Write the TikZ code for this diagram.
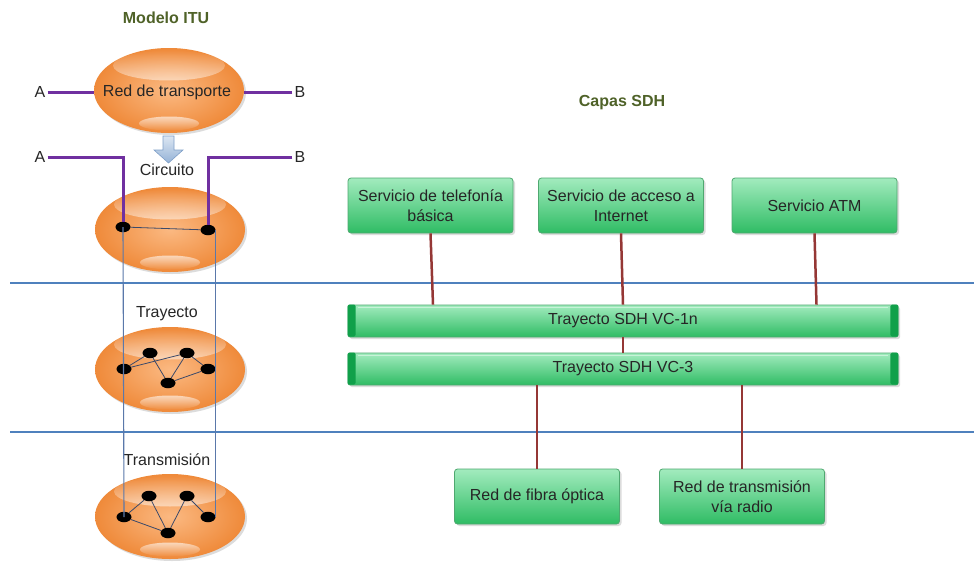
\documentclass[tikz,border=0pt]{standalone}
\usepackage{fontspec}
\setmainfont{Liberation Sans}
\usetikzlibrary{shapes.geometric,shadows,fadings,calc}

\definecolor{titleolive}{HTML}{4F6228}
\definecolor{linkpurple}{HTML}{7030A0}
\definecolor{layerblue}{HTML}{4F81BD}
\definecolor{frameblue}{HTML}{5A78AA}
\definecolor{meshline}{HTML}{3C4A6A}
\definecolor{linkred}{HTML}{953735}
\definecolor{orgin}{HTML}{FBB982}
\definecolor{orgout}{HTML}{EF8A3A}
\definecolor{gtop}{HTML}{A2EBBE}
\definecolor{gmid}{HTML}{47C878}
\definecolor{gbot}{HTML}{2FBC64}
\definecolor{gborder}{HTML}{4FA870}
\definecolor{gdark}{HTML}{10A04A}
\definecolor{arrowtop}{HTML}{DCE6F2}
\definecolor{arrowbot}{HTML}{95B3D7}
\definecolor{arrowline}{HTML}{7F9FC8}

\tikzset{
  x=1pt, y=-1pt,
  txt/.style={font=\fontsize{16}{20}\selectfont, text=black!85, inner sep=2pt},
  heading/.style={font=\fontsize{16}{20}\selectfont\bfseries, text=titleolive},
  netcloud/.style={ellipse, minimum width=150pt, minimum height=85pt, inner sep=0pt,
    inner color=orgin, outer color=orgout,
    drop shadow={shadow xshift=2pt, shadow yshift=-2pt, fill=black!30, opacity=.45},
    font=\fontsize{16}{20}\selectfont, text=black!85},
  dot/.style={ellipse, fill=black, minimum width=15pt, minimum height=10.5pt, inner sep=0pt},
  mesh/.style={draw=meshline, line width=.8pt},
  framelink/.style={draw=frameblue, line width=1.1pt},
  purplelink/.style={draw=linkpurple, line width=3pt},
  redlink/.style={draw=linkred, line width=2.5pt},
  divider/.style={draw=layerblue, line width=1.8pt},
  gbox/.style={draw=gborder, line width=.8pt, rounded corners=3pt,
    top color=gtop, middle color=gmid, bottom color=gbot,
    minimum width=165pt, minimum height=55pt, inner sep=2pt, align=center,
    font=\fontsize{16}{20}\selectfont, text=black!85,
    drop shadow={shadow xshift=2pt, shadow yshift=-2pt, fill=black!30, opacity=.45}},
  gbar/.style={gbox, minimum width=550pt, minimum height=32pt, rounded corners=2pt},
}

% glossy highlights on an orange network cloud
\newcommand{\cloudgloss}[1]{%
  \fill[white, path fading=north, fill opacity=.5]
    ($(#1.center)+(0,-25)$) ellipse [x radius=56pt, y radius=15pt];
  \fill[white, path fading=south, fill opacity=.6]
    ($(#1.center)+(0,33)$) ellipse [x radius=30pt, y radius=7pt];
}

\begin{document}
\begin{tikzpicture}
\useasboundingbox (0,0) rectangle (974,562);
\fill[white] (0,0) rectangle (974,562);

% ---------- layer dividers ----------
\draw[divider] (10,283) -- (974,283);
\draw[divider] (10,432) -- (974,432);

% ---------- ITU model ----------
\node[heading] (itu) at (166,18) {Modelo ITU};

\node[netcloud] (net) at (169,90.5) {};
\cloudgloss{net}
\node[txt] (netlabel) at (167,92) {Red de transporte};

\node[txt] (A1) at (40,92) {A};
\node[txt] (B1) at (300,92) {B};
\draw[purplelink] (A1.east) -- (A1 -| net.west);
\draw[purplelink] (B1.west) -- (B1 -| net.east);

% arrow from the transport network to its layers
\shade[top color=arrowtop, bottom color=arrowbot, draw=arrowline, line width=.6pt]
  (163,136) -- (174,136) -- (174,150) -- (183,150) -- (168.5,163)
  -- (154,150) -- (163,150) -- cycle;

\node[txt] (lcirc) at (167,170) {Circuito};
\node[txt] (ltray) at (167,314) {Trayecto};
\node[txt] (ltrans) at (167,460) {Transmisión};

\node[netcloud] (circ) at (170,229.5) {};
\cloudgloss{circ}
\node[netcloud] (tray) at (170,369.5) {};
\cloudgloss{tray}
\node[netcloud] (trans) at (170,516.5) {};
\cloudgloss{trans}

% circuit layer
\node[dot] (c1) at (123,227) {};
\node[dot] (c2) at (208,230) {};
\draw[mesh] (c1) -- (c2);

% path layer
\node[dot] (p1) at (150,353) {};
\node[dot] (p2) at (187,353) {};
\node[dot] (p3) at (124,369) {};
\node[dot] (p4) at (208,369) {};
\node[dot] (p5) at (168,383) {};
\draw[mesh] (p3) -- (p1);
\draw[mesh] (p3) -- (p2);
\draw[mesh] (p1) -- (p5);
\draw[mesh] (p2) -- (p5);
\draw[mesh] (p2) -- (p4);
\draw[mesh] (p5) -- (p4);

% transmission layer
\node[dot] (x1) at (149,496) {};
\node[dot] (x2) at (187,496) {};
\node[dot] (x3) at (124,517) {};
\node[dot] (x4) at (208,517) {};
\node[dot] (x5) at (168,533) {};
\draw[mesh] (x3) -- (x1);
\draw[mesh] (x3) -- (x5);
\draw[mesh] (x1) -- (x5);
\draw[mesh] (x5) -- (x2);
\draw[mesh] (x2) -- (x4);

% end-to-end route through the layers
\draw[framelink] (c1.center) -- (x3.center);
\draw[framelink] (c2.east) -- (x4.east);

% circuit endpoints
\node[txt] (A2) at (40,157) {A};
\node[txt] (B2) at (300,157) {B};
\draw[purplelink] (A2.east) -- (c1 |- A2) -- (c1.north);
\draw[purplelink] (B2.west) -- (c2 |- B2) -- (c2.north);

% ---------- SDH layers ----------
\node[heading] (sdh) at (622,103) {Capas SDH};

\node[gbox] (tel)  at (430.5,205.5) {Servicio de telefonía\\básica};
\node[gbox] (inet) at (621,205.5)   {Servicio de acceso a\\Internet};
\node[gbox] (atm)  at (814.5,205.5) {Servicio ATM};

\node[gbar] (vc1) at (623,321) {};
\node[gbar] (vc3) at (623,369) {};
\foreach \b in {vc1,vc3}{
  \fill[gdark, rounded corners=1.5pt] (\b.north west) rectangle ++(8,32);
  \fill[gdark, rounded corners=1.5pt] (\b.north east) rectangle ++(-8,32);
  \draw[white, opacity=.45, line width=1.4pt]
    ($(\b.north west)+(10,3)$) -- ($(\b.north east)+(-10,3)$);
}
\node[txt] (vc1label) at (vc1) {Trayecto SDH VC-1n};
\node[txt] (vc3label) at (vc3) {Trayecto SDH VC-3};

\node[gbox] (fib) at (537,496.5) {Red de fibra óptica};
\node[gbox] (rad) at (742,496.5) {Red de transmisión\\vía radio};

% links between the layers
\draw[redlink] (tel.south) -- ($(tel.south |- vc1.north)+(2.5,0)$);
\draw[redlink] (inet.south) -- ($(inet.south |- vc1.north)+(2,0)$);
\draw[redlink] (vc1.south) -- (vc3.north);
\draw[redlink] (atm.south) -- ($(atm.south |- vc1.north)+(2,0)$);
\draw[redlink] (vc3.south -| fib.north) -- (fib.north);
\draw[redlink] (vc3.south -| rad.north) -- (rad.north);
\end{tikzpicture}
\end{document}
